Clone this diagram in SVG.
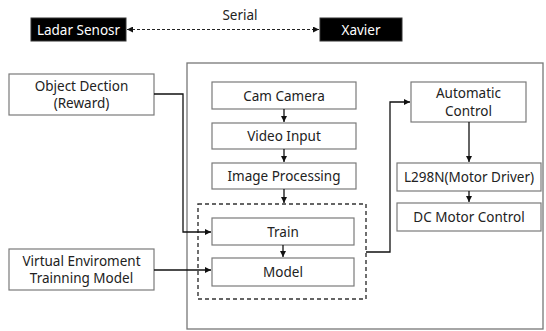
<svg xmlns="http://www.w3.org/2000/svg" width="546" height="331" viewBox="0 0 546 331">
<defs>
<style>
.box{fill:#fff;stroke:#7a7a7a;stroke-width:1.2}
.dark{fill:#000;stroke:#333;stroke-width:1}
.t{font-family:"Noto Sans","Liberation Sans",sans-serif;font-size:13.5px;fill:#222;text-anchor:middle}
.tw{font-family:"Noto Sans","Liberation Sans",sans-serif;font-size:13.5px;fill:#fff;text-anchor:middle}
.ln{fill:none;stroke:#111;stroke-width:1.3}
.dash{fill:none;stroke:#222;stroke-width:1.2;stroke-dasharray:3 2}
</style>
<marker id="ah" viewBox="0 0 6 6" refX="6" refY="3" markerWidth="5" markerHeight="5" orient="auto-start-reverse">
<path d="M0,0 L6,3 L0,6 z" fill="#111"/>
</marker>
</defs>
<rect x="187" y="63" width="356" height="266" fill="#fff" stroke="#777" stroke-width="1.3"/>
<rect x="198" y="204" width="168" height="95" fill="none" stroke="#333" stroke-width="1.4" stroke-dasharray="4 3"/>
<g id="ladar"><rect class="dark" x="31" y="18" width="95" height="23"/><text class="tw" x="78.5" y="34.5">Ladar Senosr</text></g>
<g id="xavier"><rect class="dark" x="320" y="18" width="82" height="23"/><text class="tw" x="361" y="34.5">Xavier</text></g>
<g id="object"><rect class="box" x="9" y="74" width="145" height="41"/><text class="t" x="81.5" y="91">Object Dection</text><text class="t" x="81.5" y="108">(Reward)</text></g>
<g id="virtual"><rect class="box" x="9" y="249" width="145" height="41"/><text class="t" x="81.5" y="266">Virtual Enviroment</text><text class="t" x="81.5" y="283">Trainning Model</text></g>
<g id="cam"><rect class="box" x="212" y="82" width="144" height="27"/><text class="t" x="284" y="100.5">Cam Camera</text></g>
<g id="video"><rect class="box" x="212" y="123" width="144" height="26"/><text class="t" x="284" y="141">Video Input</text></g>
<g id="image"><rect class="box" x="212" y="163" width="144" height="26"/><text class="t" x="284" y="181">Image Processing</text></g>
<g id="train"><rect class="box" x="212" y="218" width="142" height="27"/><text class="t" x="283" y="236.5">Train</text></g>
<g id="model"><rect class="box" x="212" y="258" width="142" height="28"/><text class="t" x="283" y="277">Model</text></g>
<g id="auto"><rect class="box" x="411" y="82" width="115" height="40"/><text class="t" x="468.5" y="98">Automatic</text><text class="t" x="468.5" y="115.5">Control</text></g>
<g id="l298"><rect class="box" x="397" y="163" width="144" height="28"/><text class="t" x="469" y="182">L298N(Motor Driver)</text></g>
<g id="dc"><rect class="box" x="397" y="203" width="144" height="28"/><text class="t" x="469" y="222">DC Motor Control</text></g>
<text class="t" x="240" y="20">Serial</text>
<g id="connectors">
<line class="dash" x1="127" y1="29.5" x2="319" y2="29.5" marker-start="url(#ah)" marker-end="url(#ah)"/>
<path class="ln" d="M154,94 H183 V232 H211" marker-end="url(#ah)"/>
<path class="ln" d="M154,270 H211" marker-end="url(#ah)"/>
<path class="ln" d="M284,109 V122" marker-end="url(#ah)"/>
<path class="ln" d="M284,149 V162" marker-end="url(#ah)"/>
<path class="ln" d="M284,189 V203" marker-end="url(#ah)"/>
<path class="ln" d="M283,245 V257" marker-end="url(#ah)"/>
<path class="ln" d="M366,252 H390 V102 H410" marker-end="url(#ah)"/>
<path class="ln" d="M469,122 V162" marker-end="url(#ah)"/>
<path class="ln" d="M469,191 V202" marker-end="url(#ah)"/>
</g>
</svg>
